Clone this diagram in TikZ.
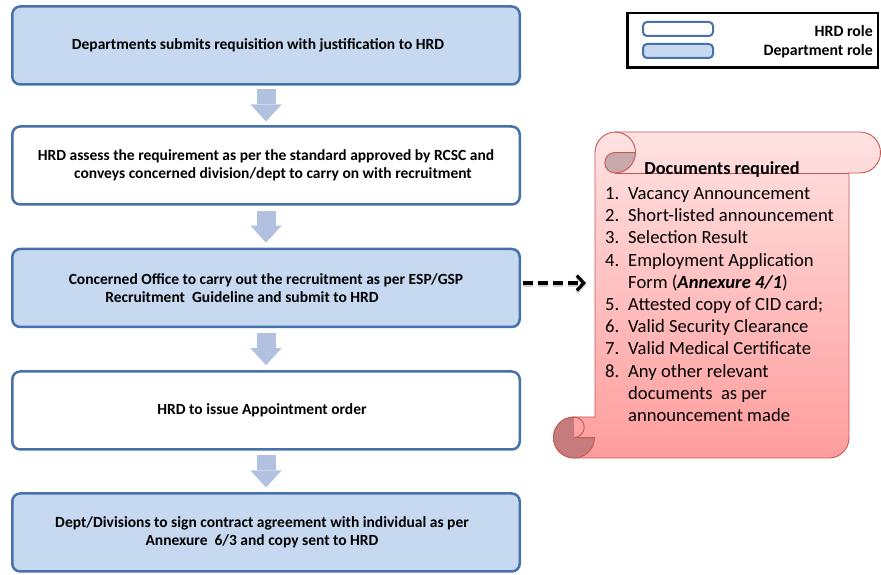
\documentclass[tikz,border=0pt]{standalone}
\usepackage{fontspec}
\setmainfont{Carlito}
\usetikzlibrary{arrows.meta,calc}

\definecolor{boxblue}{RGB}{198,217,240}
\definecolor{boxedge}{RGB}{70,114,170}
\definecolor{flowblue}{RGB}{176,194,224}
\definecolor{scrolledge}{RGB}{196,88,84}
\definecolor{scrolltop}{RGB}{255,226,226}
\definecolor{scrollbot}{RGB}{255,156,156}
\definecolor{curltop}{RGB}{200,168,168}
\definecolor{curlbot}{RGB}{198,124,124}

\tikzset{
  stepbox/.style={draw=boxedge, line width=2.5pt, rounded corners=8pt,
    minimum width=507.5pt, minimum height=78pt, inner sep=0pt,
    align=center, font=\fontsize{15.5}{18}\selectfont\bfseries},
  hrdbox/.style={stepbox, fill=white},
  deptbox/.style={stepbox, fill=boxblue},
  flow/.style={flowblue, line width=19pt,
    -{Triangle[length=17pt, width=31pt, line width=0pt]}},
  dasharrow/.style={black, line width=3.2pt, dash pattern=on 10pt off 5pt,
    -{Straight Barb[length=7pt, width=15pt]}},
  legendkey/.style={draw=boxedge, line width=2pt, rounded corners=4pt,
    minimum width=70pt, minimum height=14pt, inner sep=0pt},
  legendtext/.style={anchor=east, inner sep=0pt,
    font=\fontsize{15.8}{18}\selectfont\bfseries},
  scrolline/.style={draw=scrolledge, line width=0.9pt},
}

\begin{document}
\begin{tikzpicture}[x=1pt, y=1pt]
\useasboundingbox (0,0) rectangle (881,575);

% ---- process steps ----
\node[deptbox] (b1) at (266,529.5) {Departments submits requisition with justification to HRD\hspace*{16pt}};
\node[hrdbox]  (b2) at (266,409.5) {HRD assess the requirement as per the standard approved by RCSC and\\\hspace*{14pt}conveys concerned division/dept to carry on with recruitment};
\node[deptbox] (b3) at (266,287)   {Concerned Office to carry out the recruitment as per ESP/GSP\\Recruitment\ \ Guideline and submit to HRD\hspace*{48pt}};
\node[hrdbox]  (b4) at (266,164.5) {HRD to issue Appointment order\hspace*{8pt}};
\node[deptbox] (b5) at (266,42.5)  {Dept/Divisions to sign contract agreement with individual as per\hspace*{8pt}\\Annexure\ \ 6/3 and copy sent to HRD\hspace*{8pt}};

% ---- block arrows between steps ----
\foreach \u/\v in {b1/b2, b2/b3, b3/b4, b4/b5}{
  \draw[flow] ($(\u.south)!0.5!(\v.north)+(0,16)$) -- ($(\u.south)!0.5!(\v.north)-(0,16)$);
}

% ---- legend ----
\node[draw=black, line width=2.5pt, minimum width=250.5pt, minimum height=54.5pt, inner sep=0pt] (legend) at (752.5,534.5) {};
\node[legendkey, fill=white]   (keyhrd)  at (678,546) {};
\node[legendkey, fill=boxblue] (keydept) at (678,524) {};
\node[legendtext] (lblhrd)  at (873,544) {HRD role};
\node[legendtext] (lbldept) at (873,524) {Department role};

% ---- documents scroll ----
\shade[top color=scrolltop, bottom color=scrollbot]
  (595,422.5) arc[start angle=180, end angle=90, radius=20.5]
  -- (860,443) arc[start angle=90, end angle=-90, radius=20.5]
  -- (849,402) -- (849,137) arc[start angle=0, end angle=-90, radius=20]
  -- (574,117) arc[start angle=270, end angle=90, radius=20.5]
  -- (595,158) -- cycle;
\draw[scrolline]
  (595,422.5) arc[start angle=180, end angle=90, radius=20.5]
  -- (860,443) arc[start angle=90, end angle=-90, radius=20.5]
  -- (849,402) -- (849,137) arc[start angle=0, end angle=-90, radius=20]
  -- (574,117) arc[start angle=270, end angle=90, radius=20.5]
  -- (595,158) -- cycle;
% top roll
\draw[scrolline] (615,402) -- (849,402);
\draw[scrolline] (635.5,422.5) arc[start angle=0, end angle=90, radius=20.5];
\filldraw[scrolline, fill=curltop]
  (615,422.5) arc[start angle=90, end angle=270, radius=10.25]
  arc[start angle=270, end angle=360, radius=20.5] -- cycle;
% bottom roll: three quarters of the disc are shaded
\fill[curlbot]
  (574,137.5) -- (574,158) arc[start angle=90, end angle=360, radius=20.5] -- cycle;
\draw[scrolline] (574,158) arc[start angle=90, end angle=360, radius=20.5];
\draw[scrolline] (574,158) arc[start angle=90, end angle=-90, radius=10.25] -- (595,137.5);

\node[anchor=base, inner sep=0pt, font=\fontsize{18.3}{22}\selectfont\bfseries] (doctitle) at (722,400) {Documents required};
% the list node is anchored on the baseline of its last line
\node[anchor=base west, inner sep=0pt, align=left, font=\fontsize{18.6}{22.2}\selectfont] (doclist) at (605,153.5) {%
\makebox[23pt][l]{1.}Vacancy Announcement\\
\makebox[23pt][l]{2.}Short-listed announcement\\
\makebox[23pt][l]{3.}Selection Result\\
\makebox[23pt][l]{4.}Employment Application\\
\hspace*{23pt}Form (\textbf{\textit{Annexure 4/1}})\\
\makebox[23pt][l]{5.}Attested copy of CID card;\\
\makebox[23pt][l]{6.}Valid Security Clearance\\
\makebox[23pt][l]{7.}Valid Medical Certificate\\
\makebox[23pt][l]{8.}Any other relevant\\
\hspace*{23pt}documents\ \ as per\\
\hspace*{23pt}announcement made};

% ---- link from step 3 to the scroll ----
\coordinate (docin) at (586,292);
\draw[dasharrow, black!30, opacity=0.6] ([xshift=2pt, yshift=3pt]b3.east) -- ([yshift=-2pt]docin);
\draw[dasharrow] ([xshift=2pt, yshift=5pt]b3.east) -- (docin);
\end{tikzpicture}
\end{document}
